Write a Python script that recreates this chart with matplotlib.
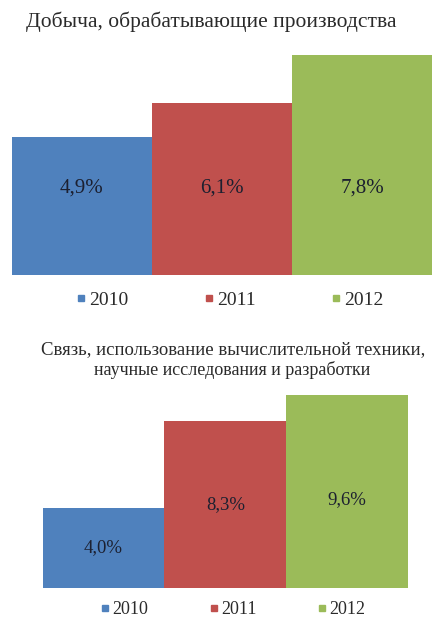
import matplotlib
matplotlib.use("Agg")
import matplotlib.pyplot as plt
from matplotlib.lines import Line2D

# ---- data ----
years = ["2010", "2011", "2012"]
title_top = "Добыча, обрабатывающие производства"
values_top = [4.9, 6.1, 7.8]
labels_top = ["4,9%", "6,1%", "7,8%"]
title_bottom_1 = "Связь, использование вычислительной техники,"
title_bottom_2 = "научные исследования и разработки"
values_bottom = [4.0, 8.3, 9.6]
labels_bottom = ["4,0%", "8,3%", "9,6%"]

colors = ["#4F81BD", "#C0504D", "#9BBB59"]
serif = ["Liberation Serif", "DejaVu Serif"]
text_color = "#2a2a2a"

W, H = 433, 617
fig = plt.figure(figsize=(W / 100, H / 100), dpi=100)


def fx(px):
    return px / W


def fy(py):
    return 1 - py / H


def draw(ax, values, labels, label_y, fs_label):
    x = list(range(len(values)))
    bars = ax.bar(x, values, width=1.0, color=colors, edgecolor="none")
    for xi, lab, ly in zip(x, labels, label_y):
        ax.text(xi, ly, lab, ha="center", va="center", fontsize=fs_label,
                family=serif, color="#1c2030")
    ax.set_xlim(-0.5, len(values) - 0.5)
    for s in ax.spines.values():
        s.set_visible(False)
    ax.set_xticks([])
    ax.set_yticks([])
    ax.patch.set_alpha(0)
    return bars


def legend(center_px, y_px, fs, colspace):
    handles = [Line2D([], [], marker="s", linestyle="none", color=c,
                      markersize=5) for c in colors]
    leg = fig.legend(handles, years, loc="center",
                     bbox_to_anchor=(fx(center_px), fy(y_px)), ncol=3,
                     frameon=False, handlelength=0.5, handletextpad=0.15,
                     columnspacing=colspace,
                     prop={"family": serif, "size": fs})
    for t in leg.get_texts():
        t.set_color(text_color)


# ---- top chart ----
ax1 = fig.add_axes([fx(12), fy(275), fx(420), 8 * 28.2 / H])
ax1.set_ylim(0, 8)
draw(ax1, values_top, labels_top, [3.08, 3.08, 3.08], 15)
fig.text(fx(211), fy(22), title_top, ha="center", va="center",
         fontsize=15.5, family=serif, color=text_color)
legend(230, 300, 14, 3.9)

# ---- bottom chart ----
ax2 = fig.add_axes([fx(42.7), fy(588), fx(365.3), 10 * 20.1 / H])
ax2.set_ylim(0, 10)
lab_y_bottom = [v / 2 for v in values_bottom]
lab_y_bottom[2] = 4.38
draw(ax2, values_bottom, labels_bottom, lab_y_bottom, 13.5)
fig.text(fx(233), fy(350), title_bottom_1, ha="center", va="center",
         fontsize=13.5, family=serif, color=text_color)
fig.text(fx(232), fy(370), title_bottom_2, ha="center", va="center",
         fontsize=13, family=serif, color=text_color)
legend(233, 610, 13, 3.37)

fig.savefig("out.png", dpi=100)
